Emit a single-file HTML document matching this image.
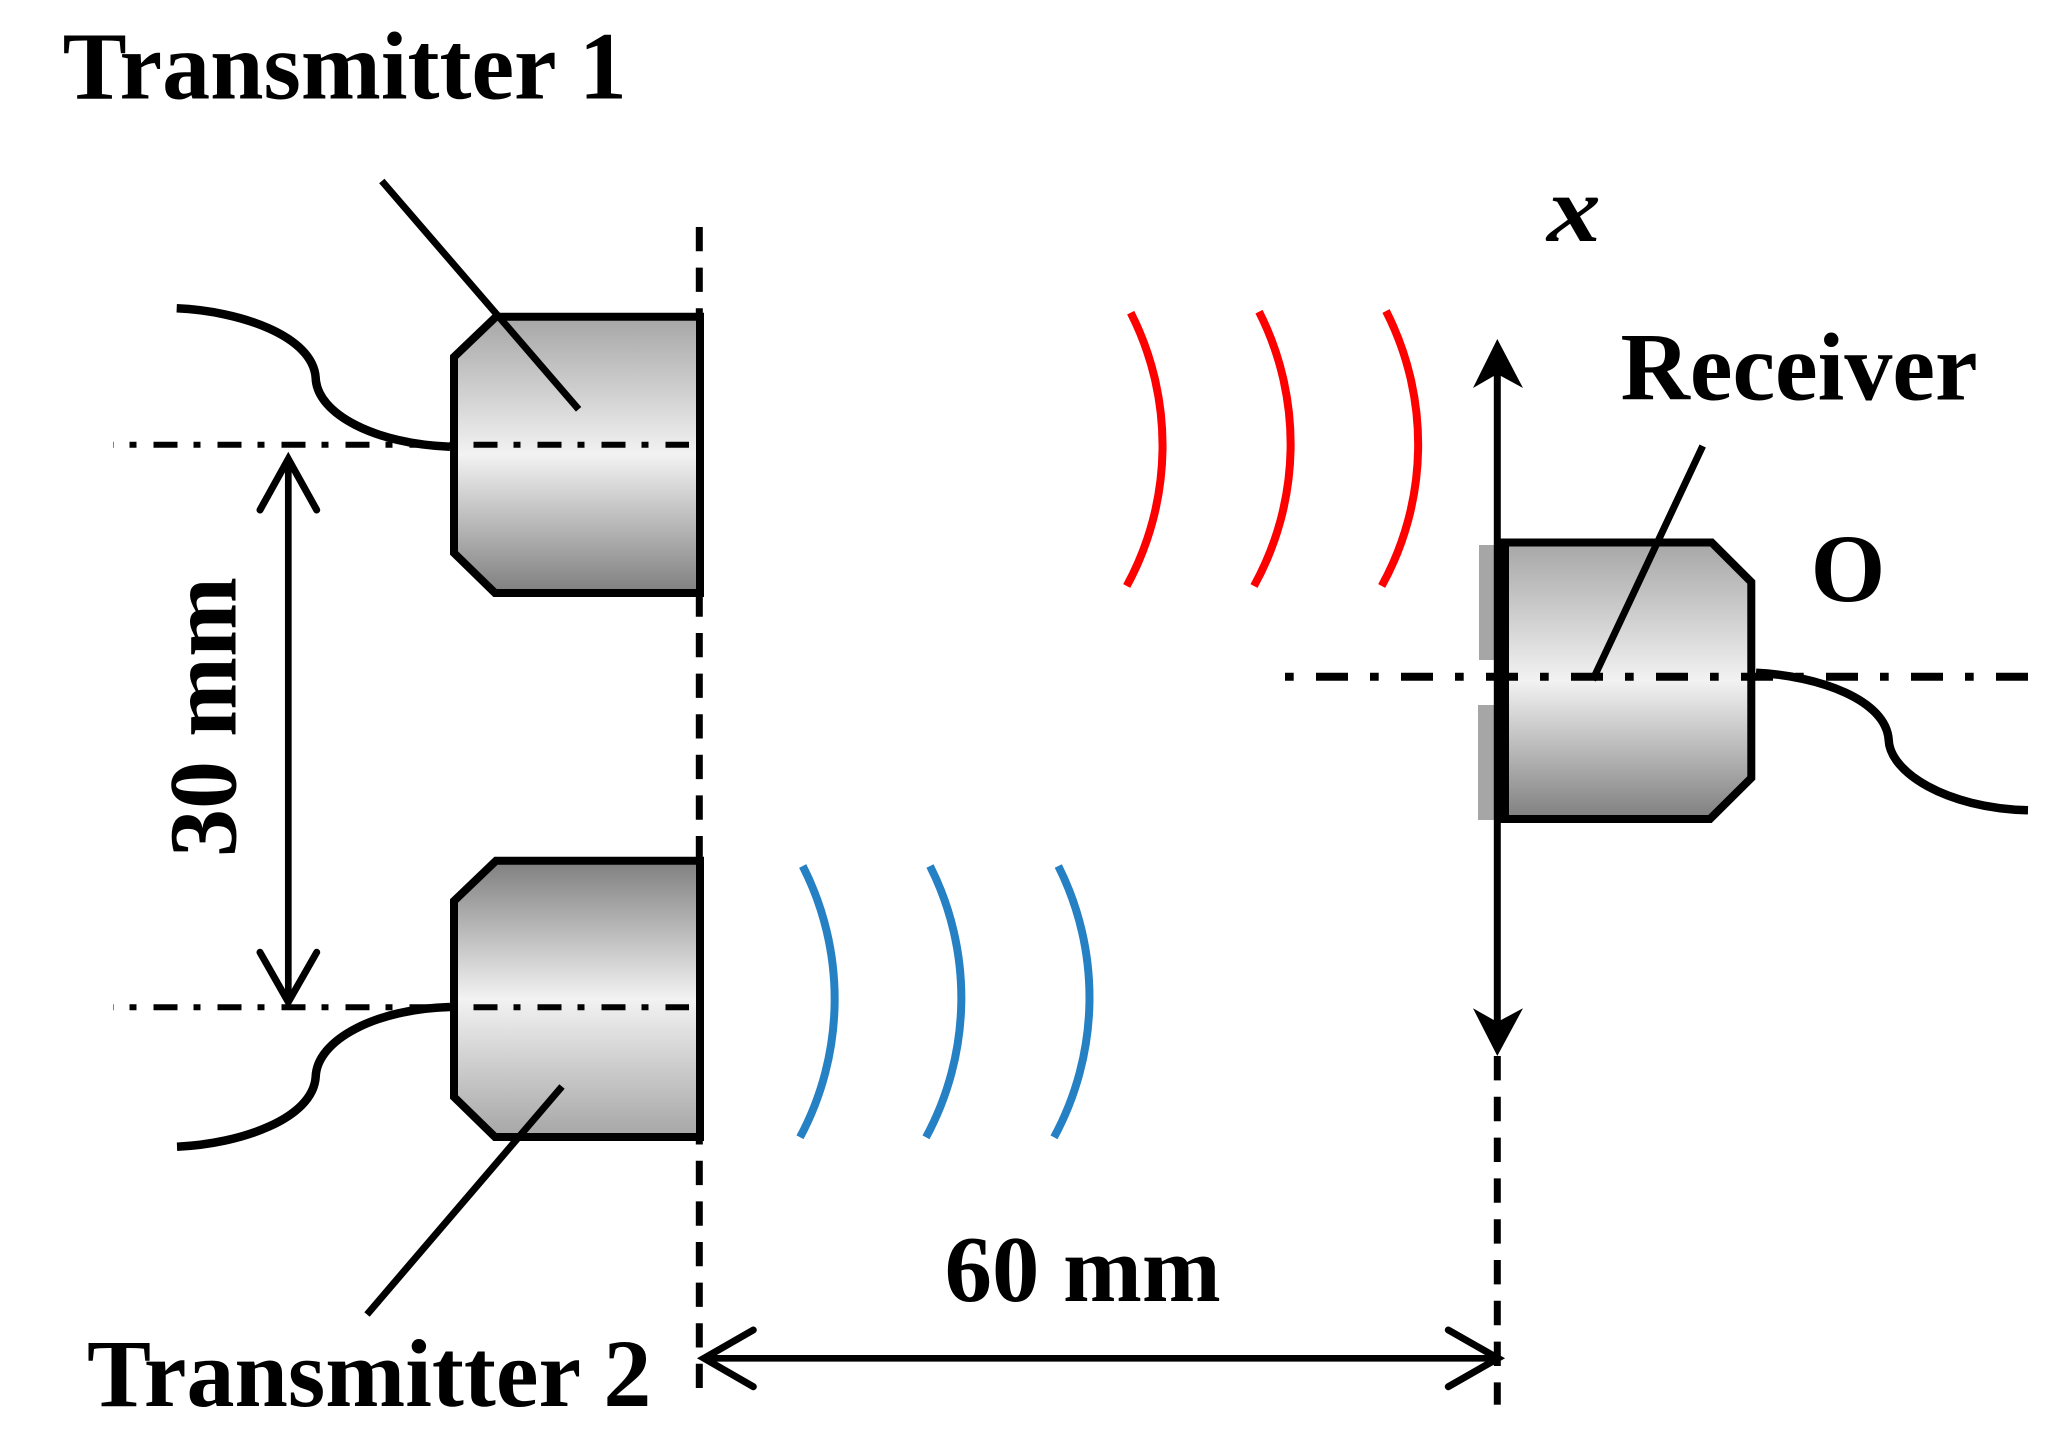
<!DOCTYPE html>
<html><head><meta charset="utf-8">
<style>html,body{margin:0;padding:0;background:#fff}svg{display:block}
text{font-family:"Liberation Serif",serif;font-weight:bold;font-size:96px;fill:#000}</style></head>
<body>
<svg width="2057" height="1446" viewBox="0 0 2057 1446" xmlns="http://www.w3.org/2000/svg">
<defs>
<linearGradient id="g1" x1="0" y1="0" x2="0" y2="1"><stop offset="0" stop-color="#a6a6a6"/><stop offset=".5" stop-color="#f2f2f2"/><stop offset="1" stop-color="#7f7f7f"/></linearGradient>
<linearGradient id="g2" x1="0" y1="0" x2="0" y2="1"><stop offset="0" stop-color="#7f7f7f"/><stop offset=".5" stop-color="#f2f2f2"/><stop offset="1" stop-color="#a6a6a6"/></linearGradient>
</defs>
<g fill="none" stroke="#000">
<path d="M699.3 227V1388" stroke-width="7" stroke-dasharray="24.3 16.3"/>
<path d="M1497.3 1056V1404.7" stroke-width="7" stroke-dasharray="24.4 16.4"/>
<polygon points="496,316.7 700,316.7 700,593 495,593 454,553 454,357" fill="url(#g1)" stroke-width="8"/>
<polygon points="496,860.7 700,860.7 700,1137 495,1137 454,1097 454,901" fill="url(#g2)" stroke-width="8"/>
<rect x="1479" y="545" width="16" height="115" fill="#a6a6a6" stroke="none"/>
<rect x="1478" y="705" width="17" height="115" fill="#a6a6a6" stroke="none"/>
<polygon points="1505,542.5 1711.7,542.5 1751.3,582 1751.3,778 1710,819 1505,819" fill="url(#g1)" stroke-width="8"/>
<rect x="1494" y="538.5" width="15" height="284.5" fill="#000" stroke="none"/>
<path d="M113 444.7H689M113 1007.3H689" stroke-width="6" stroke-dasharray="24 16 7 17" stroke-dashoffset="23.5"/>
<path d="M1285 676.7H2028" stroke-width="8" stroke-dasharray="8.7 22.3 32 22"/>
<path d="M176.7 308.3C240 311 313 336 315.7 378C317 414 375 444 450 446.7M177 1146.7C240 1144 313 1119 315.7 1076.7C317 1040 375 1009 450 1007M1756 672.7C1820 676 1886 700 1888.7 740C1890 772 1945 808 2028 810.3" stroke-width="8.5"/>
<path d="M381.8 181L578.6 409.3M562 1086.5L367 1314.5M1702.7 446L1592.7 680" stroke-width="7"/>
<path d="M1130.7 312.7A293 293 0 0 1 1126.7 586M1259 311.7A293 293 0 0 1 1254 586M1386 311A293 293 0 0 1 1381.7 586" stroke="#ff0000" stroke-width="8"/>
<path d="M802.7 866A293 293 0 0 1 800 1137.3M930 866A293 293 0 0 1 926 1137.3M1058.3 866A293 293 0 0 1 1054 1137.3" stroke="#2581c4" stroke-width="8"/>
<path d="M288.3 462V998" stroke-width="6.7"/>
<path d="M260 510L288.3 459L316.7 510M260 952.3L288.3 1002L316.7 952.3M753.3 1330L704 1358.3L753.3 1386.7M1448.3 1330L1498 1358.3L1448.3 1386.7" stroke-width="7" stroke-linecap="round" stroke-linejoin="miter"/>
<path d="M704 1358.3H1500" stroke-width="6.7"/>
<path d="M1497.3 360V1030" stroke-width="7"/>
</g>
<polygon points="1497.3,339 1523,388 1497.3,374 1473,388"/>
<polygon points="1497.3,1056 1523,1008.3 1497.3,1022 1473,1008.3"/>
<text x="62.6" y="98.4">Transmitter 1</text>
<text x="87" y="1406">Transmitter 2</text>
<text x="1620.5" y="399.3">Receiver</text>
<text x="1810.6" y="601">O</text>
<text transform="translate(1547 241) scale(1.12 .98)" style="font-style:italic">x</text>
<text x="944.6" y="1301" style="font-size:94.7px">60 mm</text>
<text transform="translate(235.7 857) rotate(-90)">30 mm</text>
</svg>
</body></html>
